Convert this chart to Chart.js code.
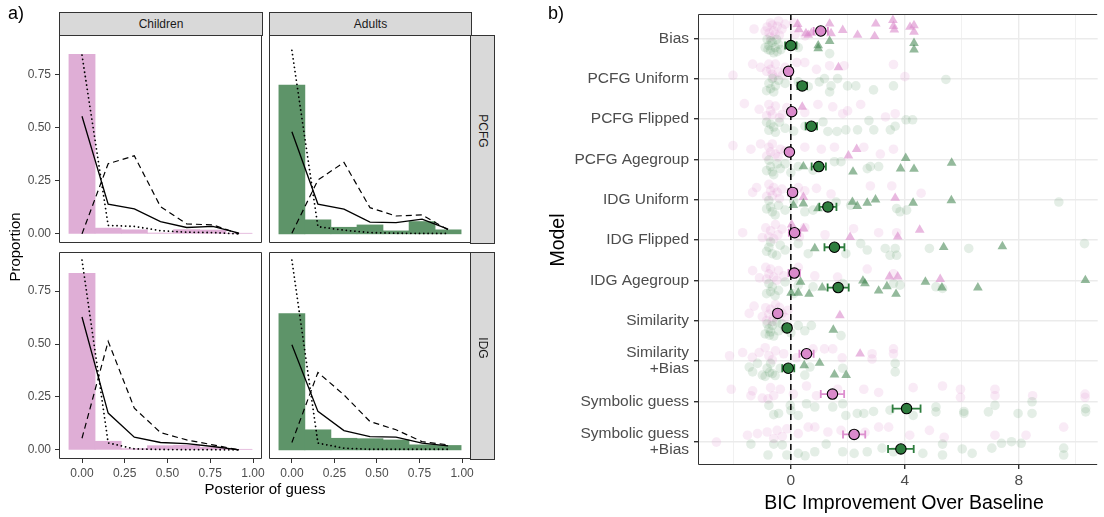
<!DOCTYPE html>
<html><head><meta charset="utf-8">
<script src="https://cdn.jsdelivr.net/npm/chart.js@4.4.0/dist/chart.umd.min.js"></script>
<style>
body{margin:0;width:1104px;height:517px;background:#fff;position:relative;overflow:hidden;font-family:"Liberation Sans",Arial,Helvetica,sans-serif;}
canvas{position:absolute;}
.t{position:absolute;white-space:nowrap;color:#000;}
.strip{position:absolute;background:#D9D9D9;border:1px solid #333;box-sizing:border-box;font-size:12px;color:#1a1a1a;}
.stripTop{display:flex;align-items:center;justify-content:center;}
.stripSide span{position:absolute;left:50%;writing-mode:vertical-rl;transform:translate(-50%,-50%);}
</style></head><body>
<canvas id="fTL" width="274" height="232" style="left:0px;top:23px"></canvas>
<canvas id="fTR" width="226" height="232" style="left:257px;top:23px"></canvas>
<canvas id="fBL" width="274" height="242" style="left:0px;top:240px"></canvas>
<canvas id="fBR" width="226" height="242" style="left:257px;top:240px"></canvas>
<canvas id="right" width="544" height="500" style="left:560px;top:2px"></canvas>

<div class="strip stripTop" style="left:59px;top:12px;width:204px;height:24px">Children</div>
<div class="strip stripTop" style="left:269px;top:12px;width:203px;height:24px">Adults</div>
<div class="strip stripSide" style="left:470px;top:35px;width:25px;height:209px"><span style="top:46%">PCFG</span></div>
<div class="strip stripSide" style="left:470px;top:252px;width:25px;height:208px"><span style="top:46%">IDG</span></div>

<div class="t" style="left:8px;top:3px;font-size:18px">a)</div>
<div class="t" style="left:548px;top:3px;font-size:18px">b)</div>
<div class="t" style="left:265px;top:481px;font-size:15px;line-height:16px;transform:translateX(-50%)">Posterior of guess</div>
<div class="t" style="left:15px;top:247px;font-size:15px;line-height:16px;transform:translate(-50%,-50%) rotate(-90deg)">Proportion</div>
<div class="t" style="left:904px;top:492px;font-size:19.5px;line-height:20px;transform:translateX(-50%)">BIC Improvement Over Baseline</div>
<div class="t" style="left:557px;top:240px;font-size:19.5px;line-height:20px;transform:translate(-50%,-50%) rotate(-90deg)">Model</div>

<script>
// ---------------- DATA: panel a ----------------
const binCenters = [0, 0.153, 0.306, 0.459, 0.612, 0.765, 0.918];
const xTicksA = [0, 0.25, 0.5, 0.75, 1.0];
const yTicksA = [0, 0.25, 0.5, 0.75];

const childPcfgBars   = [0.844, 0.027, 0.019, 0.004, 0.020, 0.018, 0.003];
const childPcfgSolid  = [0.553, 0.140, 0.117, 0.058, 0.030, 0.035, 0.003];
const childPcfgDashed = [0.000, 0.330, 0.367, 0.128, 0.047, 0.042, 0.000];
const childPcfgDotted = [0.840, 0.040, 0.035, 0.015, 0.008, 0.006, 0.000];

const adultPcfgBars   = [0.700, 0.066, 0.031, 0.042, 0.014, 0.058, 0.019];
const adultPcfgSolid  = [0.480, 0.140, 0.116, 0.055, 0.053, 0.069, 0.022];
const adultPcfgDashed = [0.003, 0.253, 0.336, 0.123, 0.084, 0.089, 0.019];
const adultPcfgDotted = [0.863, 0.034, 0.017, 0.006, 0.003, 0.002, 0.002];

const childIdgBars   = [0.834, 0.041, 0.006, 0.020, 0.022, 0.012, 0.003];
const childIdgSolid  = [0.628, 0.174, 0.060, 0.035, 0.030, 0.016, 0.000];
const childIdgDashed = [0.055, 0.513, 0.197, 0.082, 0.047, 0.024, 0.000];
const childIdgDotted = [0.897, 0.033, 0.005, 0.002, 0.001, 0.001, 0.000];

const adultIdgBars   = [0.644, 0.095, 0.055, 0.053, 0.047, 0.024, 0.021];
const adultIdgSolid  = [0.497, 0.182, 0.091, 0.063, 0.060, 0.032, 0.019];
const adultIdgDashed = [0.035, 0.366, 0.260, 0.134, 0.095, 0.039, 0.024];
const adultIdgDotted = [0.897, 0.032, 0.008, 0.003, 0.003, 0.003, 0.003];

// ---------------- DATA: panel b ----------------
const models = ['Bias','PCFG Uniform','PCFG Flipped','PCFG Agegroup','IDG Uniform','IDG Flipped','IDG Agegroup','Similarity','Similarity\n+Bias','Symbolic guess','Symbolic guess\n+Bias'];
const xTicksB = [-2, 0, 2, 4, 6, 8, 10];

const childMean = [1.05, -0.08, 0.03, -0.05, 0.06, 0.13, 0.12, -0.46, 0.55, 1.46, 2.22];
const childSE   = [0.25, 0.13, 0.12, 0.12, 0.15, 0.20, 0.20, 0.09, 0.25, 0.41, 0.39];
const adultMean = [0.00, 0.40, 0.72, 0.98, 1.30, 1.53, 1.66, -0.13, -0.09, 4.06, 3.86];
const adultSE   = [0.20, 0.17, 0.20, 0.25, 0.30, 0.35, 0.37, 0.09, 0.21, 0.49, 0.45];

// individual participants: [BIC improvement, vertical jitter]
const childPoints = [
 [[-1.29,-0.05],[-0.83,-0.1],[-0.71,-0.2],[-0.6,0],[-0.48,-0.12],[-0.43,-0.25],[-0.31,-0.05],[-0.2,-0.17],[-0.76,0.05],[-0.55,0.08],[0.15,0.08],[-0.65,-0.15],[-0.9,0],[-0.4,0.1],[0.1,-0.2],[0.5,0.12],[-0.72,0.15]],
 [[-2.03,0.1],[-1.34,-0.18],[-1.06,-0.1],[-0.77,-0.18],[-0.71,-0.05],[-0.65,0.07],[-0.54,-0.18],[-0.43,0.02],[-0.2,-0.1],[0.21,-0.22],[0.49,-0.22],[0.9,-0.05],[1.36,-0.14],[1.87,-0.14],[3.6,-0.17],[4.0,0.13],[-0.85,0],[-0.6,0.15],[-0.3,0.1]],
 [[-1.63,-0.2],[-1.11,-0.06],[-0.77,-0.18],[-0.71,-0.02],[-0.65,0.07],[-0.54,-0.14],[-0.31,0.07],[-0.14,-0.1],[0.49,0.02],[0.95,-0.18],[1.47,-0.12],[1.82,0.05],[1.99,-0.02],[2.45,-0.18],[3.32,0.13],[3.66,0.05],[-0.85,0.1],[-0.4,0.15]],
 [[-2.03,-0.16],[-1.4,-0.07],[-1.06,-0.2],[-0.77,-0.12],[-0.71,0],[-0.65,-0.2],[-0.54,0.05],[-0.37,-0.07],[-0.2,-0.03],[0.49,-0.12],[1.07,-0.07],[1.53,-0.12],[2.56,-0.12],[3.14,0.05],[3.6,-0.07],[-0.85,0.1],[-0.45,0.12]],
 [[-1.34,0],[-1.2,-0.12],[-0.77,-0.2],[-0.71,-0.04],[-0.65,0.08],[-0.6,-0.12],[-0.48,0],[-0.31,-0.08],[0.26,-0.12],[0.49,-0.04],[1.41,0.04],[2.79,-0.16],[3.54,-0.16],[4.57,0.02],[-0.85,0.1],[-0.4,0.15],[0.9,-0.1]],
 [[-1.69,0],[-0.88,-0.12],[-0.71,-0.05],[-0.54,-0.2],[-0.31,-0.09],[0.49,-0.13],[3.08,0],[3.71,0],[-0.77,0.1],[-0.6,0.15],[-0.45,0.05],[-1.0,0.12],[0.3,0.1],[1.2,0.05],[2.2,-0.1]],
 [[-1.34,-0.06],[-0.88,-0.14],[-0.77,0.02],[-0.71,-0.1],[-0.6,0.1],[-0.43,-0.06],[-0.25,0.07],[0.26,-0.14],[0.84,0.07],[1.64,0.1],[2.68,-0.1],[3.6,0.02],[-0.85,0.15],[-0.5,0.18],[-1.1,0.12]],
 [[-1.46,0],[-1.29,-0.18],[-0.88,-0.14],[-0.77,0.02],[-0.71,-0.1],[-0.6,0.1],[-0.54,-0.22],[-0.31,0],[-0.2,0.1],[-0.85,0.18],[-0.65,0.2],[-1.0,0.08],[-0.4,-0.15],[-0.1,-0.08]],
 [[-2.15,0.05],[-1.69,-0.03],[-1.35,0.09],[-1.11,-0.03],[-0.77,0.05],[-0.54,-0.07],[-0.25,0],[0.78,-0.12],[1.18,-0.12],[1.47,-0.12],[2.85,0],[2.85,0.13],[3.6,-0.12],[3.6,0],[-0.9,-0.15],[-0.65,0.15],[0.2,0.1],[1.8,0.1]],
 [[-2.09,-0.12],[-1.4,0.04],[-1.34,-0.08],[-0.71,-0.16],[-0.6,0.04],[-0.37,-0.12],[0.09,0],[0.55,-0.2],[0.9,0.04],[1.64,-0.12],[2.56,-0.12],[3.08,-0.04],[4.29,-0.16],[5.32,-0.2],[5.95,-0.12],[5.95,0.08],[7.16,-0.12],[7.16,0.04],[8.48,0.04],[10.32,0],[10.32,0.08],[-1.0,0.1],[-0.8,0.12]],
 [[-2.61,0.19],[-1.52,0.02],[-1.17,-0.02],[-0.83,-0.06],[-0.48,-0.1],[-0.14,-0.14],[0.26,-0.02],[0.61,-0.18],[0.84,-0.18],[1.3,-0.06],[1.76,-0.1],[3.08,-0.18],[3.43,-0.18],[4.17,0.02],[4.86,-0.1],[5.38,0.07],[7.16,0.02],[9.57,-0.18],[8.25,0.02],[-0.6,0.1],[-0.3,0.05],[2.6,-0.05]]
];
const childTriangles = [
 [[0.24,-0.17],[0.28,-0.04],[0.53,0.06],[0.61,0.1],[0.72,0.05],[1.36,-0.18],[1.41,0.06],[1.82,-0.02],[2.34,0.1],[2.94,0.13],[2.98,-0.18],[3.58,-0.27],[3.6,-0.12],[3.63,-0.03],[4.18,-0.1],[4.32,-0.14],[4.32,0.02]],
 [[1.67,-0.1]],
 [[0.4,-0.12]],
 [[2.02,0.09],[2.31,-0.07]],
 [[0.44,0.12],[3.66,0.14]],
 [[0.03,-0.2],[0.45,-0.1],[2.08,0.11],[3.75,0.1],[4.52,-0.07]],
 [[3.46,0.09],[3.75,0.09],[5.24,0.15]],
 [[1.72,0.05]],
 [[2.43,0]],
 [],
 []
];
const adultPoints = [
 [[-0.83,-0.15],[-0.77,0],[-0.71,0.12],[-0.65,-0.08],[-0.55,0.05],[-0.48,0.15],[-0.43,-0.03],[-0.8,0.1],[-0.7,-0.12],[-0.6,0.18],[0.15,0],[0.26,0.05],[1.36,0.2],[-0.5,-0.15],[-0.35,0.1],[-0.9,0.05]],
 [[-0.77,-0.06],[-0.71,0.07],[-0.65,-0.18],[-0.54,0],[-0.43,-0.14],[-0.2,-0.06],[0.26,-0.1],[0.61,0.02],[1.0,-0.1],[1.18,-0.18],[1.36,0.15],[1.41,0],[1.64,-0.18],[1.99,0],[2.28,0],[2.9,0.1],[3.6,0],[5.44,-0.16],[-0.85,0.12],[-0.6,0.15]],
 [[-0.77,0.1],[-0.71,-0.05],[-0.6,0.02],[-0.54,0.15],[-0.4,-0.1],[-0.2,0.05],[0.1,0.12],[-0.85,-0.1],[0.5,0],[1.13,-0.11],[1.3,0.13],[1.62,0.13],[1.93,0.09],[2.34,0.09],[2.74,-0.14],[2.91,0.09],[3.49,0.09],[3.66,0],[4.04,-0.16],[4.27,-0.16]],
 [[-0.77,-0.16],[-0.71,0],[-0.65,0.13],[-0.48,-0.07],[-0.37,0.05],[-0.2,-0.07],[0.26,0],[0.78,0.09],[1.53,-0.12],[1.76,-0.12],[2.68,0.05],[2.79,0],[3.08,0],[-0.85,0.1],[-0.6,0.2],[0,0.15]],
 [[-0.77,-0.16],[-0.71,0],[-0.65,0.12],[-0.43,-0.04],[-0.2,0.08],[0.49,0.12],[0.78,0.08],[1.59,-0.12],[2.1,-0.04],[3.71,0.04],[3.83,0.12],[4.06,0.08],[9.4,-0.12],[-0.85,0.05],[-0.55,0.2],[0.1,-0.15]],
 [[-0.77,0],[-0.71,-0.13],[-0.65,0.16],[-0.37,-0.05],[-0.2,0.07],[0.26,-0.09],[0.61,0.16],[1.93,0.16],[2.45,-0.09],[2.68,0.07],[3.31,0.03],[3.48,0.2],[3.66,0.03],[3.71,0.2],[4.86,0.03],[6.24,0.03],[10.3,-0.09],[-0.85,0.1],[-0.5,0.2]],
 [[-0.77,-0.1],[-0.71,0.1],[-0.65,-0.02],[-0.43,0.07],[-0.2,-0.14],[0.26,-0.06],[0.78,-0.02],[1.82,-0.1],[3.6,-0.1],[3.83,-0.06],[5.09,-0.02],[5.32,0.02],[-0.85,0.15],[-0.55,0.2],[0.1,0.15]],
 [[-0.83,-0.1],[-0.77,0.02],[-0.71,0.1],[-0.65,-0.06],[-0.43,0.07],[-0.31,-0.1],[-0.2,0.02],[0.26,-0.06],[0.49,0.07],[0.72,-0.06],[1.76,0.19],[-0.9,0.15],[-0.6,0.2],[-0.5,-0.15],[-0.75,0.18],[0,0.12]],
 [[-1.46,-0.03],[-1.34,0.09],[-1.17,-0.12],[-1.0,0.17],[-0.83,0],[-0.71,-0.12],[-0.65,0.13],[-0.37,0],[0.49,0.17],[0.67,-0.03],[1.82,0],[3.66,-0.12],[3.66,0.09],[-0.9,0.2],[-0.55,0.18],[-0.75,0.1]],
 [[-0.77,-0.08],[-0.43,0.12],[-0.02,-0.08],[0.26,0.17],[0.55,-0.12],[0.84,-0.04],[1.47,-0.04],[1.82,-0.12],[1.93,0.17],[2.33,0.12],[2.56,0.12],[2.9,0.07],[3.48,0.04],[4.29,0.17],[5.09,-0.04],[5.09,0.08],[6.07,0.07],[6.07,0.12],[6.93,0.08],[7.16,-0.08],[7.97,0.12],[8.46,-0.17],[8.46,0.12],[10.34,0],[10.34,0.08],[-0.6,0.15],[0,0.05]],
 [[-1.4,-0.12],[-0.6,-0.12],[-0.14,0.15],[0.26,0.11],[0.84,0.07],[1.24,-0.12],[1.82,0.07],[2.22,0.11],[2.68,0.07],[3.2,-0.02],[3.6,0.07],[4.63,0.11],[5.32,-0.12],[5.32,0.15],[6.01,0],[6.36,0.11],[7.05,-0.02],[7.39,-0.14],[7.74,-0.18],[8.08,-0.14],[9.57,-0.02],[9.57,0.15],[-0.8,0.15],[0.5,0.17],[-0.3,-0.1]]
];
const adultTriangles = [
 [[0.96,0],[0.96,0.07],[1.36,-0.11],[4.32,-0.06],[4.32,0.1]],
 [],
 [],
 [[0.44,0],[2.18,0.13],[3.85,0.05],[4.03,-0.21],[4.32,0.06],[5.64,-0.09]],
 [[0.09,-0.04],[0.44,-0.08],[0.95,0.04],[2.16,-0.12],[2.33,-0.02],[2.68,-0.1],[2.97,-0.18],[4.29,-0.1],[5.63,-0.16]],
 [[0.84,0.03],[5.36,0],[7.42,-0.02]],
 [[0.01,0.13],[0.26,0.13],[0.34,-0.14],[0.64,0.16],[1.1,0],[2.53,-0.17],[2.6,-0.1],[3.08,0.08],[3.37,-0.03],[3.69,0.16],[4.72,-0.14],[5.3,0],[6.56,0],[10.33,-0.18]],
 [[1.49,0.05]],
 [[0.47,-0.07],[1.01,-0.13],[1.53,0.16],[1.94,0.17]],
 [],
 []
];

// ---------------- STYLE ----------------
const FONT = '"Liberation Sans", Arial, Helvetica, sans-serif';
const PINK = '#DA8ACB', PINK_BAR = '#DFAED6', GREEN = '#2E7D3E', GREEN_BAR = '#5E9469';
Chart.defaults.font.family = FONT;
Chart.defaults.animation = false;
Chart.defaults.responsive = false;
Chart.defaults.devicePixelRatio = 1;
Chart.defaults.events = [];
Chart.defaults.plugins.legend.display = false;
Chart.defaults.plugins.tooltip.enabled = false;

const boxPlugin = (sides) => ({
  id: 'box',
  afterDraw(chart) {
    const a = chart.chartArea, c = chart.ctx;
    c.save(); c.strokeStyle = '#333'; c.lineWidth = 1; c.beginPath();
    const L = a.left + 0.5, R = a.right - 0.5, T = a.top + 0.5, B = a.bottom - 0.5;
    if (sides.includes('t')) { c.moveTo(L, T); c.lineTo(R, T); }
    if (sides.includes('b')) { c.moveTo(L, B); c.lineTo(R, B); }
    if (sides.includes('l')) { c.moveTo(L, T); c.lineTo(L, B); }
    if (sides.includes('r')) { c.moveTo(R, T); c.lineTo(R, B); }
    c.stroke(); c.restore();
  }
});

function facet(id, bars, solid, dashed, dotted, barColor, showX, showY, pad) {
  const pts = arr => binCenters.map((x, i) => ({x, y: arr[i]}));
  const line = (arr, dash, width, cap, order) => ({type: 'line', data: pts(arr), borderColor: '#000', borderWidth: width,
    borderDash: dash, pointRadius: 0, tension: 0, order, borderCapStyle: cap});
  return new Chart(document.getElementById(id), {
    type: 'bar',
    data: {datasets: [
      line(solid, [], 1.3, 'butt', 0), line(dashed, [6, 4], 1.2, 'butt', 1), line(dotted, [0.01, 4.3], 1.8, 'round', 2),
      {type: 'bar', data: pts(bars), backgroundColor: barColor, barPercentage: 1, categoryPercentage: 1, borderWidth: 0, order: 3}
    ]},
    options: {
      layout: {padding: pad},
      scales: {
        x: {type: 'linear', min: -0.1345, max: 1.0525, offset: false, display: showX,
            afterBuildTicks: s => { s.ticks = xTicksA.map(v => ({value: v})); },
            ticks: {callback: v => v.toFixed(2), color: '#4D4D4D', font: {size: 12}, padding: 3, maxRotation: 0, autoSkip: false},
            grid: {drawOnChartArea: false, drawTicks: true, tickLength: 4, tickColor: '#333', offset: false},
            border: {display: false},
            afterFit: s => { s.height = showX ? 23 : 0; s.paddingLeft = 0; s.paddingRight = 0; }},
        y: {type: 'linear', min: -0.043, max: 0.935, display: showY,
            afterBuildTicks: s => { s.ticks = yTicksA.map(v => ({value: v})); },
            ticks: {callback: v => v.toFixed(2), color: '#4D4D4D', font: {size: 12}, padding: 4},
            grid: {drawOnChartArea: false, drawTicks: true, tickLength: 4, tickColor: '#333'},
            border: {display: false},
            afterFit: s => { s.width = showY ? 59 : 0; s.paddingTop = 0; s.paddingBottom = 0; }}
      }
    },
    plugins: [boxPlugin('tblr')]
  });
}

facet('fTL', childPcfgBars, childPcfgSolid, childPcfgDashed, childPcfgDotted, PINK_BAR, false, true, {left: 0, top: 12, right: 12, bottom: 12});
facet('fTR', adultPcfgBars, adultPcfgSolid, adultPcfgDashed, adultPcfgDotted, GREEN_BAR, false, false, {left: 12, top: 12, right: 12, bottom: 12});
facet('fBL', childIdgBars, childIdgSolid, childIdgDashed, childIdgDotted, PINK_BAR, true, true, {left: 0, top: 12, right: 12, bottom: 0});
facet('fBR', adultIdgBars, adultIdgSolid, adultIdgDashed, adultIdgDotted, GREEN_BAR, true, false, {left: 12, top: 12, right: 12, bottom: 0});

// ---------------- panel b ----------------
const OFF = 0.18, CAP = 0.1;
const YMIN = -0.602, YMAX = 10.578;
const flat = (groups, off) => groups.flatMap((g, i) => g.map(p => ({x: p[0], y: i + off + p[1]})));
function errorSegments(means, se, off) {
  const out = [];
  means.forEach((m, i) => {
    const y = i + off, lo = m - se[i], hi = m + se[i];
    out.push({x: lo, y}, {x: hi, y}, {x: NaN, y: NaN});
    out.push({x: lo, y: y - CAP}, {x: lo, y: y + CAP}, {x: NaN, y: NaN});
    out.push({x: hi, y: y - CAP}, {x: hi, y: y + CAP}, {x: NaN, y: NaN});
  });
  return out;
}

new Chart(document.getElementById('right'), {
  type: 'scatter',
  data: {datasets: [
    {data: flat(childPoints, -OFF), pointRadius: 4.8, pointBackgroundColor: 'rgba(218,138,203,0.17)', pointBorderWidth: 0, order: 9},
    {data: flat(adultPoints, OFF), pointRadius: 4.8, pointBackgroundColor: 'rgba(46,125,62,0.13)', pointBorderWidth: 0, order: 8},
    {type: 'line', data: [{x: 0, y: YMIN}, {x: 0, y: YMAX}], borderColor: '#000', borderWidth: 1.5, borderDash: [6, 4], pointRadius: 0, order: 7},
    {data: flat(childTriangles, -OFF), pointStyle: 'triangle', pointRadius: 5.6, pointBackgroundColor: 'rgba(218,138,203,0.6)', pointBorderWidth: 0, order: 6},
    {data: flat(adultTriangles, OFF), pointStyle: 'triangle', pointRadius: 5.6, pointBackgroundColor: 'rgba(60,130,75,0.55)', pointBorderWidth: 0, order: 5},
    {type: 'line', data: errorSegments(childMean, childSE, -OFF), borderColor: '#DD8FCF', borderWidth: 1.8, pointRadius: 0, spanGaps: false, order: 4},
    {type: 'line', data: errorSegments(adultMean, adultSE, OFF), borderColor: GREEN, borderWidth: 1.8, pointRadius: 0, spanGaps: false, order: 3},
    {data: childMean.map((m, i) => ({x: m, y: i - OFF})), pointStyle: 'circle', pointRadius: 5.2, pointBackgroundColor: PINK, pointBorderColor: '#000', pointBorderWidth: 1.1, order: 2},
    {data: adultMean.map((m, i) => ({x: m, y: i + OFF})), pointStyle: 'circle', pointRadius: 5.2, pointBackgroundColor: GREEN, pointBorderColor: '#000', pointBorderWidth: 1.1, order: 1}
  ]},
  options: {
    layout: {padding: {left: 0, top: 12, right: 0, bottom: 12}},
    scales: {
      x: {type: 'linear', min: -3.256, max: 10.763,
          afterBuildTicks: s => { s.ticks = xTicksB.map(v => ({value: v})); },
          ticks: {callback: v => (v % 4 === 0 ? String(v) : ''), color: '#4D4D4D', font: {size: 15.5}, padding: 2, maxRotation: 0, autoSkip: false},
          grid: {color: '#EBEBEB', lineWidth: c => (c.tick && c.tick.value % 4 === 0 ? 1.4 : 0.7),
                 tickColor: c => (c.tick && c.tick.value % 4 === 0 ? '#333' : 'rgba(0,0,0,0)'), tickLength: 4},
          border: {display: false},
          afterFit: s => { s.height = 25; s.paddingLeft = 0; s.paddingRight = 0; }},
      y: {type: 'linear', reverse: true, min: YMIN, max: YMAX,
          afterBuildTicks: s => { s.ticks = models.map((m, i) => ({value: i})); },
          ticks: {callback: v => models[Math.round(v)].split('\n'), color: '#4D4D4D', font: {size: 15.5, lineHeight: 1.05}, padding: 5, autoSkip: false},
          grid: {color: '#EBEBEB', lineWidth: 1.4, tickColor: '#333', tickLength: 4},
          border: {display: false},
          afterFit: s => { s.width = 138; s.paddingTop = 0; s.paddingBottom = 0; }}
    }
  },
  plugins: [boxPlugin('tbl')]
});
</script>
</body></html>
